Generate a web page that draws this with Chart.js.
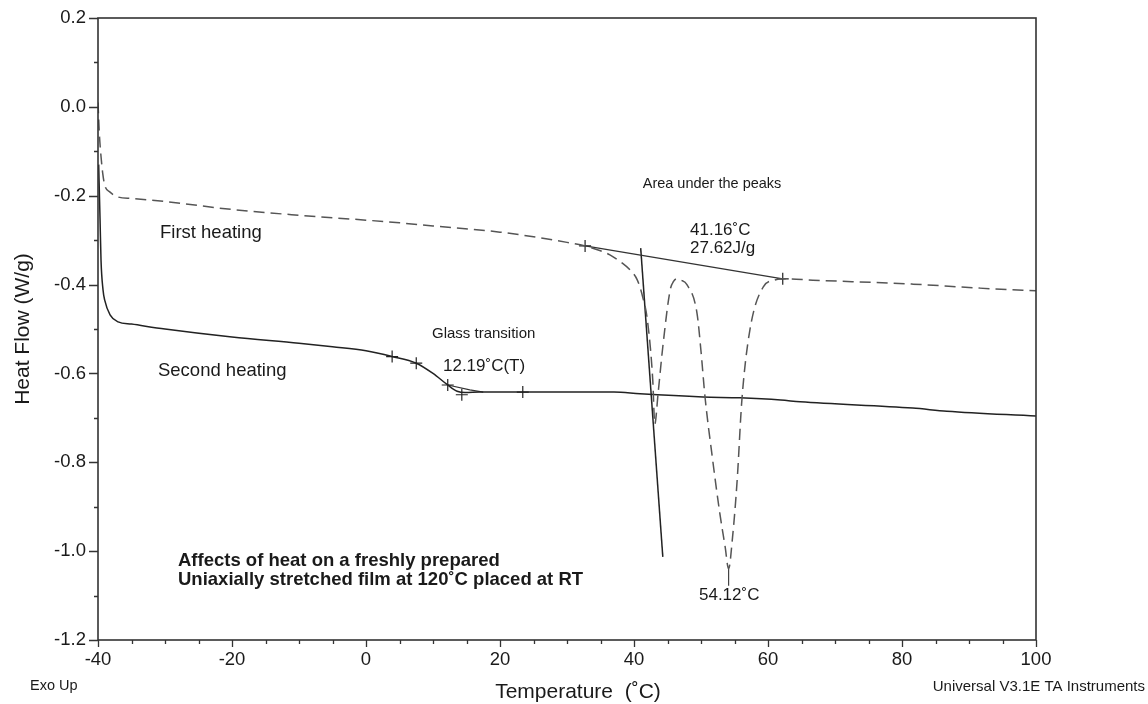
<!DOCTYPE html>
<html lang="en">
<head>
  <meta charset="UTF-8" />
  <title>DSC - Heat Flow vs Temperature</title>
  <script src="https://cdn.jsdelivr.net/npm/chart.js"></script>
  <style>
    body {
      margin: 0;
      background: #ffffff;
    }
    #wrap {
      width: 1148px;
      height: 704px;
    }
  </style>
</head>
<body>
  <div id="wrap"><canvas id="dsc" width="1148" height="704"></canvas></div>

  <script>
    // first heating run (dashed curve)
    const firstTemp = [-40.0, -39.8, -39.5, -39.3, -39.0, -38.2, -37.0, -35.0, -30.0, -20.0, -10.0, 0.0, 5.0, 10.0, 20.0, 30.0, 32.7, 35.0, 36.4, 38.0, 39.4, 40.5, 41.3, 42.0, 42.8, 43.1, 43.6, 44.3, 45.4, 45.9, 46.4, 47.0, 47.9, 49.4, 50.0, 50.6, 51.7, 52.8, 53.6, 54.12, 54.7, 55.4, 56.1, 57.3, 59.3, 61.0, 62.2, 66.7, 81.6, 91.6, 100.0];
    const firstFlow = [0.01, -0.06, -0.12, -0.149, -0.176, -0.192, -0.203, -0.206, -0.213, -0.231, -0.244, -0.255, -0.261, -0.268, -0.282, -0.305, -0.313, -0.324, -0.333, -0.349, -0.367, -0.39, -0.428, -0.48, -0.615, -0.714, -0.644, -0.54, -0.412, -0.393, -0.387, -0.39, -0.40, -0.464, -0.55, -0.653, -0.79, -0.914, -0.99, -1.04, -0.97, -0.84, -0.66, -0.502, -0.405, -0.39, -0.387, -0.39, -0.399, -0.408, -0.414];

    // second heating run (solid curve)
    const secondTemp = [-39.9, -39.7, -39.55, -39.25, -39.0, -38.2, -37.0, -35.0, -30.0, -20.0, -10.0, -5.0, 0.0, 3.9, 7.5, 10.0, 12.2, 13.6, 14.8, 17.0, 23.4, 37.0, 40.9, 50.3, 55.8, 61.9, 64.8, 81.6, 86.7, 100.0];
    const secondFlow = [-0.13, -0.25, -0.345, -0.412, -0.435, -0.468, -0.484, -0.489, -0.50, -0.518, -0.532, -0.540, -0.549, -0.562, -0.577, -0.600, -0.626, -0.640, -0.643, -0.642, -0.642, -0.642, -0.646, -0.653, -0.655, -0.660, -0.664, -0.678, -0.685, -0.696];

    // peak integration baseline and partial-area drop line
    const baseTemp = [32.7, 62.2];
    const baseFlow = [-0.313, -0.387];
    const dropTemp = [41.0, 44.3];
    const dropFlow = [-0.318, -1.013];

    // glass transition tangent and peak marker
    const tangentTemp = [12.2, 15.5, 17.5];
    const tangentFlow = [-0.626, -0.637, -0.642];
    const peakTemp = [54.12, 54.12];
    const peakFlow = [-1.04, -1.078];

    // analysis limit crosses
    const crossTemp = [3.9, 7.5, 12.2, 14.3, 23.4, 32.7, 62.2];
    const crossFlow = [-0.562, -0.577, -0.626, -0.648, -0.642, -0.313, -0.387];

    // axis ranges
    const xMin = -40, xMax = 100, xStep = 5;
    const yMin = -1.2, yMax = 0.2, yStep = 0.1;

    const FONT = "'Liberation Sans', Arial, Helvetica, sans-serif";
    const INK = '#1a1a1a';

    const pts = (xs, ys) => xs.map((x, i) => ({ x: x, y: ys[i] }));

    // free text placed in data units (left edge, vertical centre)
    const notes = [
      { text: 'First heating', x: -30.75, y: -0.284, size: 18.5 },
      { text: 'Second heating', x: -31.05, y: -0.595, size: 18.5 },
      { text: 'Area under the peaks', x: 41.3, y: -0.174, size: 14.5 },
      { text: '41.16˚C', x: 48.36, y: -0.277, size: 17 },
      { text: '27.62J/g', x: 48.36, y: -0.318, size: 17 },
      { text: 'Glass transition', x: 9.85, y: -0.511, size: 15 },
      { text: '12.19˚C(T)', x: 11.49, y: -0.583, size: 17 },
      { text: '54.12˚C', x: 49.7, y: -1.099, size: 17 },
      { text: 'Affects of heat on a freshly prepared', x: -28.06, y: -1.022, size: 18.5, bold: true },
      { text: 'Uniaxially stretched film at 120˚C placed at RT', x: -28.06, y: -1.065, size: 18.5, bold: true }
    ];

    const frameAndNotes = {
      id: 'frameAndNotes',
      afterDraw(chart) {
        const { ctx, chartArea: a, scales: { x, y } } = chart;
        ctx.save();

        // plot frame
        ctx.strokeStyle = '#333';
        ctx.lineWidth = 1.6;
        ctx.strokeRect(a.left, a.top, a.right - a.left, a.bottom - a.top);

        // tick marks, longer on labelled values
        ctx.lineWidth = 1.3;
        ctx.beginPath();
        x.ticks.forEach(t => {
          const px = Math.round(x.getPixelForValue(t.value)) + 0.5;
          const len = t.value % 20 === 0 ? 7 : 4;
          ctx.moveTo(px, a.bottom);
          ctx.lineTo(px, a.bottom + len);
        });
        y.ticks.forEach(t => {
          const py = Math.round(y.getPixelForValue(t.value)) + 0.5;
          const len = Math.round(t.value * 10) % 2 === 0 ? 9 : 4;
          ctx.moveTo(a.left, py);
          ctx.lineTo(a.left - len, py);
        });
        ctx.stroke();

        // annotations
        ctx.fillStyle = INK;
        ctx.textBaseline = 'middle';
        ctx.textAlign = 'left';
        notes.forEach(n => {
          ctx.font = (n.bold ? 'bold ' : '') + n.size + 'px ' + FONT;
          ctx.fillText(n.text, x.getPixelForValue(n.x), y.getPixelForValue(n.y));
        });

        // axis titles and footer notes
        ctx.font = '21px ' + FONT;
        ctx.textAlign = 'center';
        ctx.fillText('Temperature  (˚C)', (a.left + a.right) / 2 + 11, 692);

        ctx.save();
        ctx.translate(23, (a.top + a.bottom) / 2);
        ctx.rotate(-Math.PI / 2);
        ctx.fillText('Heat Flow (W/g)', 0, 0);
        ctx.restore();

        ctx.font = '14.5px ' + FONT;
        ctx.textAlign = 'left';
        ctx.fillText('Exo Up', 30, 686);
        ctx.font = '15px ' + FONT;
        ctx.textAlign = 'right';
        ctx.fillText('Universal V3.1E TA Instruments', 1145, 687);

        ctx.restore();
      }
    };

    const thinLine = (data, color, width) => ({
      data: data,
      borderColor: color,
      borderWidth: width,
      pointRadius: 0,
      tension: 0,
      fill: false
    });

    new Chart(document.getElementById('dsc'), {
      type: 'line',
      data: {
        datasets: [
          {
            label: 'First heating',
            data: pts(firstTemp, firstFlow),
            borderColor: '#555',
            borderWidth: 1.5,
            borderDash: [11, 6],
            pointRadius: 0,
            cubicInterpolationMode: 'monotone',
            fill: false
          },
          {
            label: 'Second heating',
            data: pts(secondTemp, secondFlow),
            borderColor: '#222',
            borderWidth: 1.5,
            pointRadius: 0,
            cubicInterpolationMode: 'monotone',
            fill: false
          },
          thinLine(pts(baseTemp, baseFlow), '#333', 1.3),
          thinLine(pts(dropTemp, dropFlow), '#222', 1.5),
          thinLine(pts(tangentTemp, tangentFlow), '#333', 1.1),
          thinLine(pts(peakTemp, peakFlow), '#444', 1.2),
          {
            type: 'scatter',
            data: pts(crossTemp, crossFlow),
            pointStyle: 'cross',
            pointRadius: 6,
            borderColor: '#222',
            borderWidth: 1.2,
            showLine: false
          }
        ]
      },
      options: {
        responsive: false,
        animation: false,
        devicePixelRatio: 1,
        layout: { padding: { left: 0, top: 18, right: 112, bottom: 0 } },
        plugins: {
          legend: { display: false },
          tooltip: { enabled: false }
        },
        scales: {
          x: {
            type: 'linear',
            min: xMin,
            max: xMax,
            border: { display: false },
            grid: { display: false, drawTicks: false },
            ticks: {
              stepSize: xStep,
              maxTicksLimit: 100,
              autoSkip: false,
              maxRotation: 0,
              padding: 9,
              color: INK,
              font: { family: FONT, size: 18.5 },
              callback: v => (v % 20 === 0 ? String(v) : '')
            },
            afterFit: s => { s.height = 64; }
          },
          y: {
            type: 'linear',
            min: yMin,
            max: yMax,
            border: { display: false },
            grid: { display: false, drawTicks: false },
            ticks: {
              stepSize: yStep,
              maxTicksLimit: 100,
              autoSkip: false,
              padding: 12,
              color: INK,
              font: { family: FONT, size: 18.5 },
              callback: v => {
                if (Math.round(v * 10) % 2 !== 0) return '';
                return Math.abs(v) < 1e-9 ? '0.0' : v.toFixed(1);
              }
            },
            // fixed gutter; label overhang fits inside the layout padding
            afterFit: s => {
              s.width = 98;
              s.paddingTop = 0;
              s.paddingBottom = 0;
            }
          }
        }
      },
      plugins: [frameAndNotes]
    });
  </script>
</body>
</html>
